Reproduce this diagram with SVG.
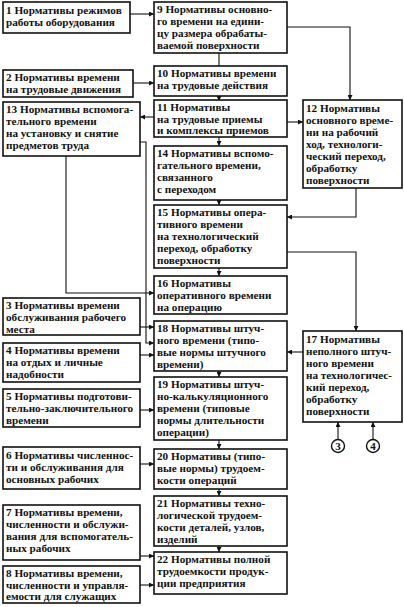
<svg xmlns="http://www.w3.org/2000/svg" width="404" height="607" viewBox="0 0 404 607">
<defs>
<marker id="ah" viewBox="0 0 10 10" refX="10" refY="5" markerWidth="5" markerHeight="5" orient="auto" markerUnits="userSpaceOnUse">
<path d="M0,0 L10,5 L0,10 z" fill="#111"/>
</marker>
<style>
.b{fill:#fff;stroke:#111;stroke-width:1.6}
.t{font-family:"Liberation Serif","DejaVu Serif",serif;font-size:11.2px;font-weight:bold;fill:#111}
.c{fill:none;stroke:#111;stroke-width:1.1}
.a{fill:none;stroke:#111;stroke-width:1.1;marker-end:url(#ah)}
.n{font-family:"Liberation Serif","DejaVu Serif",serif;font-size:11px;font-weight:bold;fill:#111;text-anchor:middle}
</style>
</defs>
<rect width="404" height="607" fill="#fff"/>
<g id="connectors">
<path class="a" d="M130,14 H154"/>
<path class="a" d="M133,83 H154"/>
<path class="c" d="M219,53 V66"/>
<path class="a" d="M287,27 H350 V100"/>
<path class="a" d="M219,96 V101"/>
<path class="a" d="M287,122 H303"/>
<path class="a" d="M154,117 H140"/>
<path class="a" d="M219,137 V146"/>
<path class="a" d="M219,200 V205"/>
<path class="a" d="M219,268 V276"/>
<path class="a" d="M356,188 V217 H287"/>
<path class="a" d="M287,252 H356 V331"/>
<path class="a" d="M66,156 V293 H154"/>
<path class="a" d="M140,142 H146 V343 H154"/>
<path class="a" d="M140,327 H154"/>
<path class="a" d="M140,355 H154"/>
<path class="a" d="M303,352 H287"/>
<path class="a" d="M219,371 V377"/>
<path class="a" d="M140,410 H154"/>
<path class="a" d="M219,440 V449"/>
<path class="a" d="M140,464 H154"/>
<path class="a" d="M219,489 V496"/>
<path class="a" d="M219,546 V552"/>
<path class="a" d="M140,556 H154"/>
<path class="a" d="M140,585 H154"/>
<path class="a" d="M338,439 V422"/>
<path class="a" d="M373,439 V422"/>
</g>
<g id="n1"><rect class="b" x="3" y="2" width="127" height="31"/><text class="t"><tspan x="6" y="13.5">1 Нормативы режимов</tspan><tspan x="6" y="25.5">работы оборудования</tspan></text></g>
<g id="n2"><rect class="b" x="3" y="70" width="130" height="27"/><text class="t"><tspan x="6" y="81">2 Нормативы времени</tspan><tspan x="6" y="93">на трудовые движения</tspan></text></g>
<g id="n13"><rect class="b" x="3" y="102" width="137" height="54"/><text class="t"><tspan x="6" y="113">13 Нормативы вспомога-</tspan><tspan x="6" y="125">тельного времени</tspan><tspan x="6" y="137">на установку и снятие</tspan><tspan x="6" y="149">предметов труда</tspan></text></g>
<g id="n3"><rect class="b" x="3" y="298" width="137" height="37"/><text class="t"><tspan x="6" y="309">3 Нормативы времени</tspan><tspan x="6" y="321">обслуживания рабочего</tspan><tspan x="6" y="333">места</tspan></text></g>
<g id="n4"><rect class="b" x="3" y="343" width="137" height="39"/><text class="t"><tspan x="6" y="354">4 Нормативы времени</tspan><tspan x="6" y="366">на отдых и личные</tspan><tspan x="6" y="378">надобности</tspan></text></g>
<g id="n5"><rect class="b" x="3" y="389" width="137" height="38"/><text class="t"><tspan x="6" y="400">5 Нормативы подготови-</tspan><tspan x="6" y="412">тельно-заключительного</tspan><tspan x="6" y="424">времени</tspan></text></g>
<g id="n6"><rect class="b" x="3" y="447" width="137" height="42"/><text class="t"><tspan x="6" y="459">6 Нормативы численнос-</tspan><tspan x="6" y="471">ти и обслуживания для</tspan><tspan x="6" y="483">основных рабочих</tspan></text></g>
<g id="n7"><rect class="b" x="3" y="505" width="137" height="55"/><text class="t"><tspan x="6" y="516">7 Нормативы времени,</tspan><tspan x="6" y="528">численности и обслужи-</tspan><tspan x="6" y="540">вания для вспомогатель-</tspan><tspan x="6" y="552">ных рабочих</tspan></text></g>
<g id="n8"><rect class="b" x="3" y="566" width="137" height="37"/><text class="t"><tspan x="6" y="577">8 Нормативы времени,</tspan><tspan x="6" y="589">численности и управля-</tspan><tspan x="6" y="600">емости для служащих</tspan></text></g>
<g id="n9"><rect class="b" x="154" y="2" width="133" height="51"/><text class="t"><tspan x="157" y="13">9 Нормативы основно-</tspan><tspan x="157" y="25">го времени на едини-</tspan><tspan x="157" y="37">цу размера обрабаты-</tspan><tspan x="157" y="49">ваемой поверхности</tspan></text></g>
<g id="n10"><rect class="b" x="154" y="66" width="133" height="30"/><text class="t"><tspan x="157" y="77">10 Нормативы времени</tspan><tspan x="157" y="89">на трудовые действия</tspan></text></g>
<g id="n11"><rect class="b" x="154" y="100" width="133" height="37"/><text class="t"><tspan x="157" y="111">11 Нормативы</tspan><tspan x="157" y="122.5">на трудовые приемы</tspan><tspan x="157" y="134">и комплексы приемов</tspan></text></g>
<g id="n14"><rect class="b" x="154" y="146" width="133" height="54"/><text class="t"><tspan x="157" y="157">14 Нормативы вспомо-</tspan><tspan x="157" y="169">гательного времени,</tspan><tspan x="157" y="181">связанного</tspan><tspan x="157" y="193">с переходом</tspan></text></g>
<g id="n15"><rect class="b" x="154" y="205" width="133" height="63"/><text class="t"><tspan x="157" y="216">15 Нормативы опера-</tspan><tspan x="157" y="228">тивного времени</tspan><tspan x="157" y="240">на технологический</tspan><tspan x="157" y="252">переход, обработку</tspan><tspan x="157" y="264">поверхности</tspan></text></g>
<g id="n16"><rect class="b" x="154" y="276" width="133" height="38"/><text class="t"><tspan x="157" y="287">16 Нормативы</tspan><tspan x="157" y="299">оперативного времени</tspan><tspan x="157" y="311">на операцию</tspan></text></g>
<g id="n18"><rect class="b" x="154" y="321" width="133" height="50"/><text class="t"><tspan x="157" y="332">18 Нормативы штуч-</tspan><tspan x="157" y="344">ного времени (типо-</tspan><tspan x="157" y="356">вые нормы штучного</tspan><tspan x="157" y="368">времени)</tspan></text></g>
<g id="n19"><rect class="b" x="154" y="377" width="133" height="63"/><text class="t"><tspan x="157" y="388">19 Нормативы штуч-</tspan><tspan x="157" y="400">но-калькуляционного</tspan><tspan x="157" y="412">времени (типовые</tspan><tspan x="157" y="424">нормы длительности</tspan><tspan x="157" y="436">операции)</tspan></text></g>
<g id="n20"><rect class="b" x="154" y="449" width="133" height="40"/><text class="t"><tspan x="157" y="460">20 Нормативы (типо-</tspan><tspan x="157" y="472">вые нормы) трудоем-</tspan><tspan x="157" y="484">кости операций</tspan></text></g>
<g id="n21"><rect class="b" x="154" y="496" width="133" height="50"/><text class="t"><tspan x="157" y="507">21 Нормативы техно-</tspan><tspan x="157" y="519">логической трудоем-</tspan><tspan x="157" y="531">кости деталей, узлов,</tspan><tspan x="157" y="543">изделий</tspan></text></g>
<g id="n22"><rect class="b" x="154" y="552" width="133" height="42"/><text class="t"><tspan x="157" y="563">22 Нормативы полной</tspan><tspan x="157" y="575">трудоемкости продук-</tspan><tspan x="157" y="587">ции предприятия</tspan></text></g>
<g id="n12"><rect class="b" x="303" y="100" width="99" height="88"/><text class="t"><tspan x="306" y="112">12 Нормативы</tspan><tspan x="306" y="124">основного време-</tspan><tspan x="306" y="136">ни на рабочий</tspan><tspan x="306" y="148">ход, технологи-</tspan><tspan x="306" y="160">ческий переход,</tspan><tspan x="306" y="172">обработку</tspan><tspan x="306" y="184">поверхности</tspan></text></g>
<g id="n17"><rect class="b" x="303" y="331" width="99" height="91"/><text class="t"><tspan x="306" y="343">17 Нормативы</tspan><tspan x="306" y="355">неполного штуч-</tspan><tspan x="306" y="367">ного времени</tspan><tspan x="306" y="379">на технологичес-</tspan><tspan x="306" y="391">кий переход,</tspan><tspan x="306" y="403">обработку</tspan><tspan x="306" y="415">поверхности</tspan></text></g>
<g id="c3"><circle cx="338" cy="446" r="6.5" fill="#fff" stroke="#111" stroke-width="1.4"/><text class="n" x="338" y="450">3</text></g>
<g id="c4"><circle cx="373" cy="446" r="6.5" fill="#fff" stroke="#111" stroke-width="1.4"/><text class="n" x="373" y="450">4</text></g>
</svg>
